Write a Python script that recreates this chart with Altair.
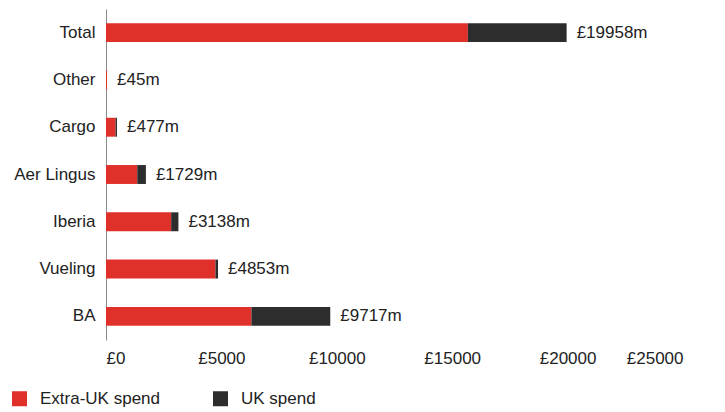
import altair as alt
import pandas as pd

categories = ["Total", "Other", "Cargo", "Aer Lingus", "Iberia", "Vueling", "BA"]
extra_uk = [15680, 45, 417, 1354, 2823, 4743, 6300]
uk_spend = [4278, 0, 60, 375, 315, 110, 3417]
totals = [19958, 45, 477, 1729, 3138, 4853, 9717]
series = ["Extra-UK spend", "UK spend"]
x_ticks = [0, 5000, 10000, 15000, 20000, 25000]

RED = "#E0302A"
DARK = "#2D2D2D"
FONT = "Liberation Sans"

rows = []
for c, e, u in zip(categories, extra_uk, uk_spend):
    rows.append({"category": c, "series": series[0], "value": e, "ord": 0})
    rows.append({"category": c, "series": series[1], "value": u, "ord": 1})
df = pd.DataFrame(rows)

lab = pd.DataFrame({"category": categories, "total": totals,
                    "label": ["£%dm" % t for t in totals]})

y_enc = alt.Y("category:N", sort=categories, title=None,
              scale=alt.Scale(paddingInner=0.6, paddingOuter=0.3),
              axis=alt.Axis(domain=True, domainColor="#8a8a8a", domainWidth=1,
                            ticks=False, grid=False, labelFontSize=17,
                            labelColor="#222222", labelFont=FONT,
                            labelPadding=11, minExtent=98))

bars = alt.Chart(df).mark_bar().encode(
    x=alt.X("value:Q", stack="zero", title=None,
            scale=alt.Scale(domain=[0, 25000], nice=False),
            axis=alt.Axis(values=x_ticks, domain=False, ticks=False, grid=False,
                          labelFontSize=17, labelColor="#222222", labelFont=FONT,
                          labelPadding=10,
                          labelExpr="'£' + format(datum.value, 'd')")),
    y=y_enc,
    color=alt.Color("series:N", sort=series, title=None,
                    scale=alt.Scale(domain=series, range=[RED, DARK]),
                    legend=alt.Legend(orient="none", legendX=-95, legendY=381,
                                      direction="horizontal", symbolType="square",
                                      symbolSize=225, symbolStrokeWidth=0,
                                      labelFontSize=17, labelFont=FONT,
                                      labelColor="#222222", labelOffset=12,
                                      columnPadding=52)),
    order=alt.Order("ord:Q"),
)

text = alt.Chart(lab).mark_text(align="left", baseline="middle", dx=10,
                                fontSize=17, font=FONT, color="#222222").encode(
    x=alt.X("total:Q"),
    y=alt.Y("category:N", sort=categories),
    text="label:N",
)

chart = (bars + text).properties(
    width=577, height=331,
    padding={"left": 0, "top": 1, "right": 5, "bottom": 0},
).configure_view(strokeWidth=0)

chart.save("out.html", embed_options={"renderer": "svg", "actions": False})
